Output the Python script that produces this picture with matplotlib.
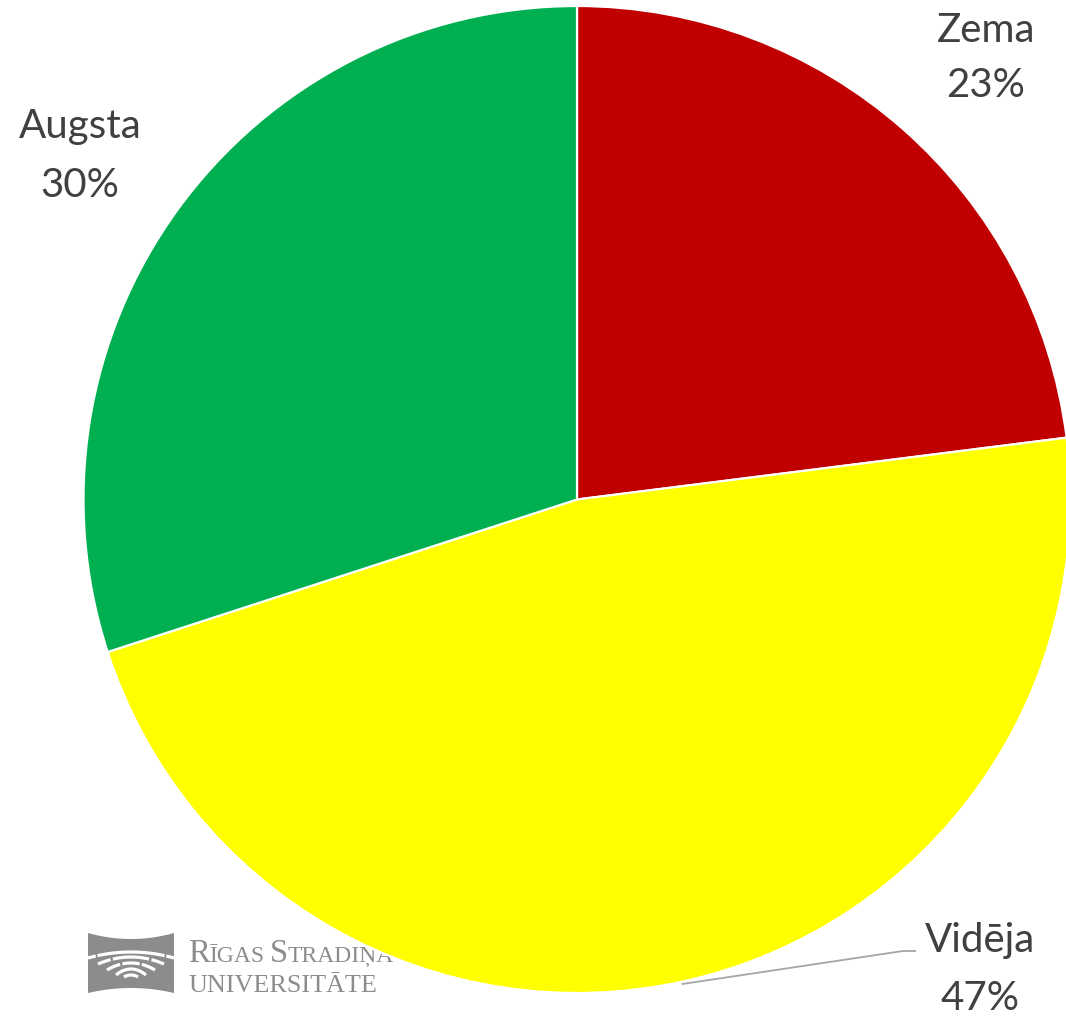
import numpy as np
import matplotlib
matplotlib.use("Agg")
import matplotlib.pyplot as plt
from matplotlib.patches import Polygon

categories = ["Zema", "Vidēja", "Augsta"]
values = [23, 47, 30]
colors = ["#C00000", "#FFFF00", "#00B050"]

W, H = 1066, 1016
fig = plt.figure(figsize=(W / 100, H / 100), dpi=100)
ax = fig.add_axes([0, 0, 1, 1])

cx, cy, R = 577, H - 499.5, 493.5

wedges, _ = ax.pie(values, colors=colors, startangle=90, counterclock=False,
                   radius=R, center=(cx, cy),
                   wedgeprops=dict(edgecolor="white", linewidth=1.6, zorder=2))
ax.set_xlim(0, W)
ax.set_ylim(0, H)
ax.set_aspect("equal")
ax.axis("off")

# data labels (x centre, baseline of name, baseline of percent) in pixel rows
font = ["Lato", "DejaVu Sans"]
tcol = "#404040"
label_pos = [(986, 42, 97), (980, 952, 1010), (80, 138, 197)]
for cat, v, (lx, b1, b2) in zip(categories, values, label_pos):
    ax.text(lx, H - b1, cat, ha="center", va="baseline", fontsize=29,
            color=tcol, family=font, zorder=5)
    ax.text(lx, H - b2, f"{v}%", ha="center", va="baseline", fontsize=29,
            color=tcol, family=font, zorder=5)

# leader line for Vidēja
total = sum(values)
mid = (values[0] + values[1] / 2) / total * 360.0
sx = cx + R * np.sin(np.radians(mid))
sy = cy + R * np.cos(np.radians(mid))
ax.plot([sx - 3, 903, 916], [sy - 3, H - 951, H - 951], color="#A6A6A6",
        lw=1.3, zorder=4, solid_capstyle="butt")

# logo (behind pie)
lg = "#8C8C8C"
xs = np.linspace(88, 174, 60)
u = 1 - ((xs - 131) / 43) ** 2
top = H - (933 + 6 * u)
bot = H - (993 - 5 * u)
poly = np.vstack([np.column_stack([xs, top]), np.column_stack([xs[::-1], bot[::-1]])])
ax.add_patch(Polygon(poly, closed=True, color=lg, zorder=1, lw=0))

# white arcs: (half width, peak row, end row, gaps as fractions)
arcs = [(43, 952, 958, [(-1.0, -0.82), (-0.78, 0.78), (0.82, 1.0)]),
        (33, 957, 964, [(-1.0, -0.62), (-0.55, 0.55), (0.62, 1.0)]),
        (24, 963, 970, [(-1.0, -0.45), (-0.36, 0.36), (0.45, 1.0)]),
        (15, 969, 975, [(-1.0, 1.0)]),
        (7, 975, 977, [(-1.0, 1.0)])]
for hw, pk, en, segs in arcs:
    for a, b in segs:
        t = np.linspace(a, b, 30)
        ax.plot(131 + hw * t, H - (pk + (en - pk) * t ** 2), color="white",
                lw=2.3, zorder=1.2, solid_capstyle="butt")

fig.canvas.draw()
renderer = fig.canvas.get_renderer()
serif = ["Liberation Serif", "DejaVu Serif"]
x0 = 188
pieces = [("R", 23.5), ("ĪGAS", 17), (" ", 13), ("S", 23.5), ("TRADIŅA", 17)]
for s, fs in pieces:
    t = ax.text(x0, H - 962, s, fontsize=fs, color=lg, family=serif,
                ha="left", va="baseline", zorder=1)
    bb = t.get_window_extent(renderer)
    x0 += bb.width
ax.text(188, H - 992, "UNIVERSITĀTE", fontsize=18.8, color=lg, family=serif,
        ha="left", va="baseline", zorder=1)

fig.savefig("out.png", dpi=100)
